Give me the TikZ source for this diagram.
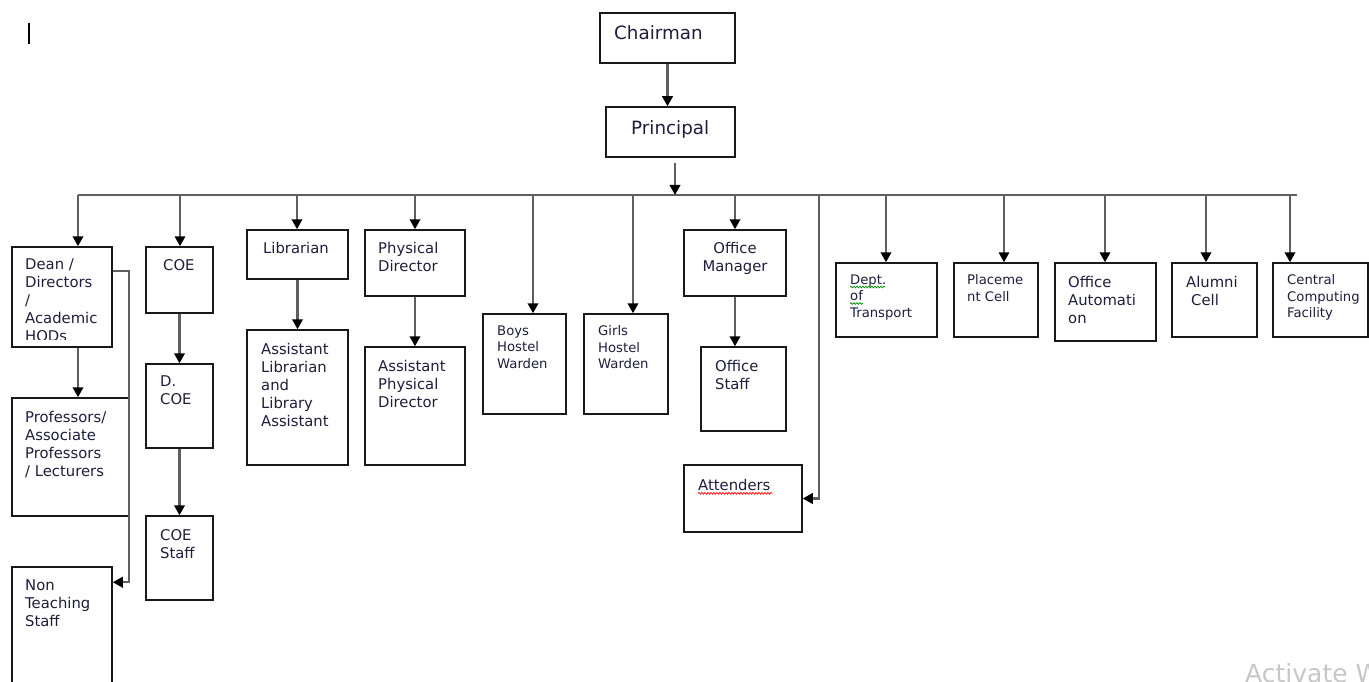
\documentclass[tikz,border=0pt]{standalone}
\usepackage{fontspec}
\setmainfont{DejaVu Sans}
\usetikzlibrary{arrows.meta,fit,calc,decorations.pathmorphing}
\definecolor{linec}{RGB}{95,95,95}
\definecolor{txtc}{RGB}{30,30,60}
\begin{document}
\begin{tikzpicture}[x=1pt,y=-1pt,
  box/.style={draw=black!90, line width=1.5pt, inner sep=0pt},
  lbl/.style={anchor=north west, inner sep=0pt, align=left, text=txtc, font=\fontsize{14.8}{18}\selectfont},
  slbl/.style={lbl, font=\fontsize{13.2}{16.5}\selectfont},
  blbl/.style={lbl, font=\fontsize{18.3}{22}\selectfont},
  conn/.style={draw=linec, line width=2.2pt},
  arr/.style={conn, -{Triangle[width=10.5pt,length=10pt,color=black]}},
  wave/.style={decorate, decoration={snake, amplitude=0.9pt, segment length=3pt}, line width=0.7pt},
]
\useasboundingbox (0,0) rectangle (1369,682);
\clip (0,0) rectangle (1369,682);

% cursor mark
\draw[line width=2pt, black] (29,23) -- (29,44);

% ---------- boxes ----------
\node[box, fit={(600,13) (735,63)}] (chair) {};
\node[box, fit={(606,107) (735,157)}] (princ) {};

\node[box, fit={(12,247) (112,347)}] (dean) {};
\node[box, fit={(12,398) (129,516)}] (prof) {};
\node[box, fit={(12,567) (112,700)}] (nts) {};

\node[box, fit={(146,247) (213,313)}] (coe) {};
\node[box, fit={(146,364) (213,448)}] (dcoe) {};
\node[box, fit={(146,516) (213,600)}] (coes) {};

\node[box, fit={(247,230) (348,279)}] (lib) {};
\node[box, fit={(247,330) (348,465)}] (alib) {};

\node[box, fit={(365,230) (465,296)}] (phys) {};
\node[box, fit={(365,347) (465,465)}] (aphys) {};

\node[box, fit={(483,314) (566,414)}] (boys) {};
\node[box, fit={(584,314) (668,414)}] (girls) {};

\node[box, fit={(684,230) (786,296)}] (om) {};
\node[box, fit={(701,347) (786,431)}] (ostaff) {};
\node[box, fit={(684,465) (802,532)}] (att) {};

\node[box, fit={(836,263) (937,337)}] (dept) {};
\node[box, fit={(954,263) (1038,337)}] (place) {};
\node[box, fit={(1055,263) (1156,341)}] (oa) {};
\node[box, fit={(1172,263) (1257,337)}] (alum) {};
\node[box, fit={(1273,263) (1368,337)}] (ccf) {};

% ---------- labels ----------
\node[blbl] (chair-t) at (614,25.5) {Chairman};
\node[blbl] (princ-t) at (631,120.5) {Principal};

\begin{scope}
  \clip (12,247) rectangle (112,339.5);
  \node[lbl] (dean-t) at (25,259) {Dean /\\Directors\\/\\Academic\\HODs};
\end{scope}
\node[lbl] (prof-t) at (25,411) {Professors/\\Associate\\Professors\\/ Lecturers};
\node[lbl] (nts-t) at (25,580) {Non\\Teaching\\Staff};

\node[lbl] (coe-t) at (163,259) {COE};
\node[lbl] (dcoe-t) at (160,376) {D.\\COE};
\node[lbl] (coes-t) at (160,529) {COE\\Staff};

\node[lbl] (lib-t) at (263,242) {Librarian};
\node[lbl] (alib-t) at (261,343) {Assistant\\Librarian\\and\\Library\\Assistant};

\node[lbl] (phys-t) at (378,242) {Physical\\Director};
\node[lbl] (aphys-t) at (378,360) {Assistant\\Physical\\Director};

\node[slbl] (boys-t) at (497,325.5) {Boys\\Hostel\\Warden};
\node[slbl] (girls-t) at (598,325.5) {Girls\\Hostel\\Warden};

\node[lbl, align=center, anchor=north] (om-t) at (735,242) {Office\\Manager};
\node[lbl] (ostaff-t) at (715,360) {Office\\Staff};
\node[lbl] (att-t) at (698,479) {Attenders};

\node[slbl] (dept-t) at (850,274.5) {Dept.\\of\\Transport};
\node[slbl] (place-t) at (967,274.5) {Placeme\\nt Cell};
\node[lbl] (oa-t) at (1068,276) {Office\\Automati\\on};
\node[lbl] (alum-t) at (1186,276) {Alumni\\\hspace*{5pt}Cell};
\node[slbl] (ccf-t) at (1287,274.5) {Central\\Computing\\Facility};

% spell-check underlines
\draw[red, wave] ($(att-t.south west)+(0,2.5)$) -- ($(att-t.south east)+(2,2.5)$);
\draw[green!55!black, wave] ($(dept-t.north west)+(0,12.5)$) -- ++(35,0);
\draw[green!55!black, wave] ($(dept-t.north west)+(0,29)$) -- ++(13,0);

% ---------- connectors ----------
\draw[arr] (chair.south) -- (chair.south |- princ.north);

\coordinate (pout) at (675,163);
\coordinate (busl) at (78,195);
\coordinate (busr) at (1297,195);
\draw[conn] (busl) -- (busr);
\draw[arr] (pout) -- (pout |- busl);

\foreach \n/\x in {b1/78,b2/180,b3/297,b4/415,b5/533,b6/633,b7/735,b8/819,b9/886,b10/1004,b11/1105,b12/1206,b13/1290}
  \coordinate (\n) at (\x,195);

\draw[arr] (b1) -- (b1 |- dean.north);
\draw[arr] (b2) -- (b2 |- coe.north);
\draw[arr] (b3) -- (b3 |- lib.north);
\draw[arr] (b4) -- (b4 |- phys.north);
\draw[arr] (b5) -- (b5 |- boys.north);
\draw[arr] (b6) -- (b6 |- girls.north);
\draw[arr] (b7) -- (b7 |- om.north);
\draw[arr] (b8) |- (att.east);
\draw[arr] (b9) -- (b9 |- dept.north);
\draw[arr] (b10) -- (b10 |- place.north);
\draw[arr] (b11) -- (b11 |- oa.north);
\draw[arr] (b12) -- (b12 |- alum.north);
\draw[arr] (b13) -- (b13 |- ccf.north);

% sub-chains
\draw[arr] (b1 |- dean.south) -- (b1 |- prof.north);
\coordinate (dout) at ($(dean.north east)+(0,25)$);
\coordinate (ntsin) at ($(nts.north east)+(0,16)$);
\draw[arr] (dout) -- ++(16,0) |- (ntsin);

\draw[arr] (coe.south) -- (coe.south |- dcoe.north);
\draw[arr] (dcoe.south) -- (dcoe.south |- coes.north);
\draw[arr] (lib.south) -- (lib.south |- alib.north);
\draw[arr] (phys.south) -- (phys.south |- aphys.north);
\draw[arr] (om.south) -- (om.south |- ostaff.north);

% watermark (cut by the right edge, as in the screenshot)
\node[anchor=north west, inner sep=0pt, text=black!22, font=\fontsize{25}{30}\selectfont] (wm) at (1245,663) {Activate W};
\end{tikzpicture}
\end{document}
